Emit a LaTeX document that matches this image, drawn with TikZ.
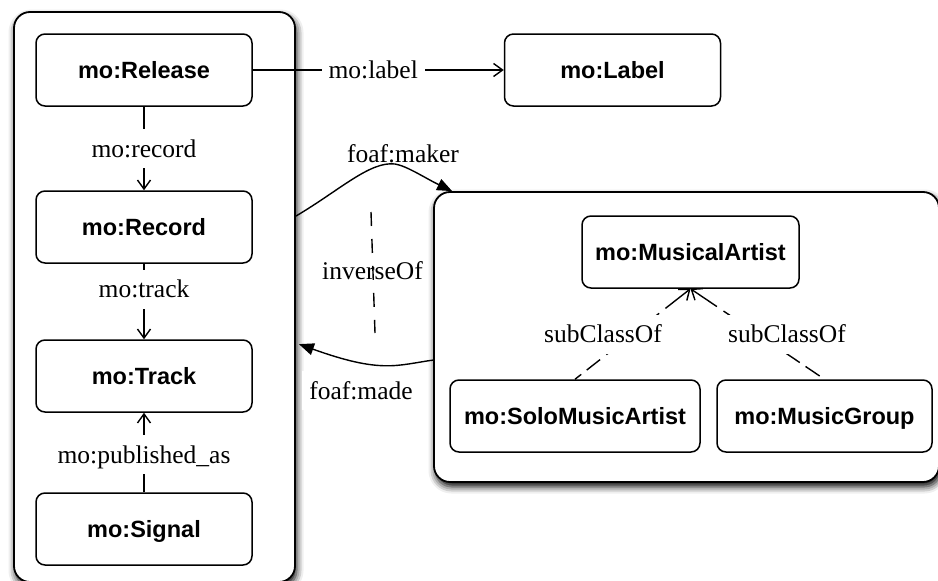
\documentclass[tikz,border=0pt]{standalone}
\usepackage{fontspec}
\setmainfont{Liberation Serif}
\newfontfamily\boxfont{Liberation Sans}
\usetikzlibrary{arrows.meta,shadows.blur,calc}
\begin{document}
\begin{tikzpicture}[x=1pt,y=-1pt,
  cont/.style={draw, line width=1.8pt, rounded corners=16pt, fill=white,
    blur shadow={shadow xshift=1.5pt, shadow yshift=-4.5pt, shadow blur radius=7pt, shadow opacity=100}},
  cls/.style={draw, line width=1.5pt, rounded corners=9pt, fill=white,
    minimum height=72pt, inner sep=0pt, text height=16.8pt, text depth=0pt,
    font=\boxfont\bfseries\fontsize{23.5}{28}\selectfont},
  lbl/.style={fill=white, inner xsep=7pt, inner ysep=11pt, text height=17pt, text depth=0pt,
    font=\fontsize{25.5}{30}\selectfont},
  plainlbl/.style={inner sep=0pt, text height=17pt, text depth=0pt,
    font=\fontsize{25.5}{30}\selectfont},
  rel/.style={line width=1.4pt, -{Straight Barb[length=9pt,width=13pt]}},
  sub/.style={line width=1.4pt,
    dash pattern=on 30pt off 8pt on 17pt off 8pt on 17pt off 8pt on 17pt off 8pt on 17pt off 7pt on 17pt off 7pt,
    {Straight Barb[length=9pt,width=14pt]}-},
  foaf/.style={line width=1.4pt, -{Triangle[length=15pt,width=12pt]}},
  inv/.style={line width=1.4pt, dash pattern=on 14pt off 13pt}]
\useasboundingbox (0,0) rectangle (938,581);
\clip (0,0) rectangle (938,581);

% containers
\node[cont, minimum width=281pt, minimum height=570pt] (leftC) at (154.5,297) {};
\node[cont, minimum width=505pt, minimum height=290pt] (rightC) at (686.5,337) {};

% class boxes
\node[cls, minimum width=216pt] (release) at (144,70) {mo:Release};
\node[cls, minimum width=216pt] (record) at (144,227) {mo:Record};
\node[cls, minimum width=216pt] (track) at (144,376) {mo:Track};
\node[cls, minimum width=216pt] (signal) at (144,529) {mo:Signal};
\node[cls, minimum width=216pt] (label) at (612.5,70) {mo:Label};
\node[cls, minimum width=217pt] (artist) at (690.5,252) {mo:MusicalArtist};
\node[cls, minimum width=250pt] (solo) at (575,416) {mo:SoloMusicArtist};
\node[cls, minimum width=215pt] (group) at (824.5,416) {mo:MusicGroup};

% relations in the left group
\draw[rel] (release) -- (label) node[lbl, pos=0.48] {mo:label};
\draw[rel] (release) -- (record) node[lbl, pos=0.5] {mo:record};
\draw[rel] (record) -- (track) node[lbl, pos=0.34] {mo:track};
\draw[rel] (signal) -- (track) node[lbl, pos=0.47] {mo:published\_as};

% subclass relations
\draw[sub] (artist.south) -- (solo.north);
\draw[sub] (artist.south) -- (group.north);
\node[lbl] (subl) at (603,334) {subClassOf};
\node[lbl] (subr) at (787,334) {subClassOf};

% foaf relations
\coordinate (mk1) at ($(leftC.north east)+(0,205)$);
\coordinate (mk2) at ($(rightC.north west)+(19,0)$);
\coordinate (md1) at ($(rightC.north west)+(0,169)$);
\coordinate (md2) at ($(leftC.north east)+(3,333)$);
\draw[foaf] (mk1) .. controls (340,190) and (370,161) .. (395,164)
  .. controls (407,166) and (425,178) .. (mk2);
\draw[foaf] (md1) .. controls (397,365) and (382,374) .. (md2);
\node[plainlbl] (makerl) at (403,153.5) {foaf:maker};
\node[lbl] (madel) at (361,390.5) {foaf:made};

% inverseOf
\coordinate (inv1) at (371,212);
\coordinate (inv2) at (375,333);
\draw[inv] (inv1) -- (inv2);
\node[plainlbl] (invl) at (372.5,270.5) {inverseOf};
\end{tikzpicture}
\end{document}
